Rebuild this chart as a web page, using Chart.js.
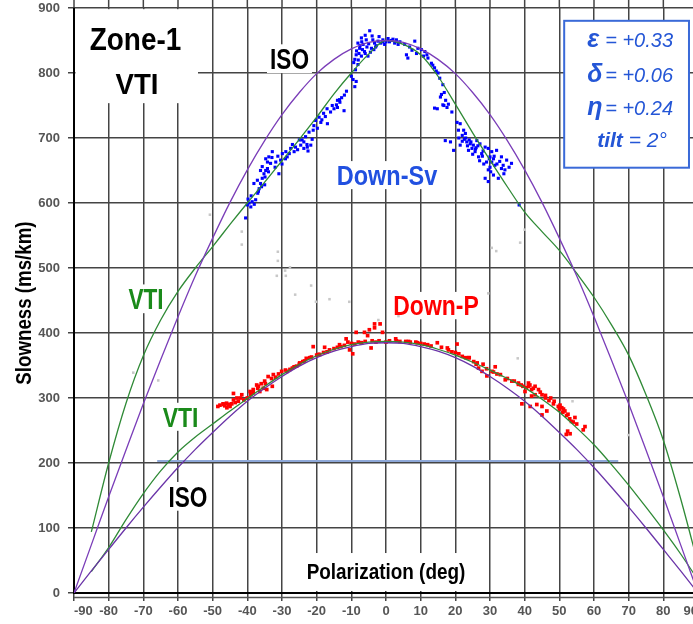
<!DOCTYPE html>
<html><head><meta charset="utf-8">
<script src="https://cdn.jsdelivr.net/npm/chart.js@4.4.0/dist/chart.umd.min.js"></script>
<style>
html,body{margin:0;padding:0;background:#fff;overflow:hidden;width:693px;height:624px}
#wrap{position:relative;width:693px;height:624px;overflow:hidden;background:#fff}
canvas{display:block}
</style></head><body>
<div id="wrap"><canvas id="c" width="720" height="624"></canvas></div>
<script>
// ---------- data ----------
const angles = [-90,-85,-80,-75,-70,-65,-60,-55,-50,-45,-40,-35,-30,-25,-20,-15,-10,-5,0,5,10,15,20,25,30,35,40,45,50,55,60,65,70,75,80,85,90];
const isoSv = [0,74,148,220,291,359,425,488,546,601,651,696,736,770,799,821,837,847,850,847,837,821,799,770,736,696,651,601,546,488,425,359,291,220,148,74,0];
const vtiSv = [null,94,200,292,365,420,464,500,533,567,600,632,665,698,732,768,800,829,850,844,828,795,752,708,666,625,586,556,527,492,455,413,366,305,235,145,45];
const isoP = [0,34,67,100,132,163,193,221,247,272,295,315,333,349,362,372,379,384,385,384,379,372,362,349,333,315,295,272,247,221,193,163,132,100,67,34,0];
const vtiP = [null,33,70,113,153,188,217,240,260,280,299,318,336,352,365,375,382,386,387,386,382,375,366,355,343,330,316,298,278,254,228,198,166,132,97,60,20];
const refLineX = [-66, 67];
const refLineY = [203, 203];

const downSvPoints = [
[-40.5,577],[-40,597],[-39,594],[-38.6,602],[-37.6,605],[-39.5,600],[-38,598],[-38.1,630],[-37.1,635],[-36.6,622],
[-36.2,630],[-35.7,638],[-35.2,645],[-34.7,650],[-36.2,650],[-35.7,656],[-34.2,653],[-34.2,663],[-33.3,661],[-34.7,668],
[-33.8,671],[-32.8,679],[-31.8,663],[-30.9,645],[-30.4,666],[-29.9,676],[-28.9,679],[-28.5,671],[-27.5,684],[-26.5,679],
[-26.1,686],[-24.6,689],[-23.7,694],[-23.7,684],[-22.7,686],[-21.7,689],[-22.5,680],[-23.2,702],[-22.2,709],[-20.8,719],
[-20.3,727],[-19.3,732],[-18.8,724],[-16.9,722],[-16,740],[-15,745],[-14,747],[-13.3,755],[-12.1,742],
[-37,615],[-35,628],[-32,655],[-29,668],[-27,690],[-25,697],[-21,712],[-18,738],[-17,745],[-14,758],
[-39.8,606],[-38.9,611],[-36.8,618],[-35.9,625],[-34.9,640],[-33.9,648],[-32.9,670],[-31.2,672],[-30,660],[-27.9,676],
[-25.5,682],[-24.2,697],[-22.8,690],[-21.3,698],[-19.8,715],[-18.5,728],[-17.5,733],[-15.5,750],[-12.8,762],[-12,766],
[-14.3,751],[-13.4,759],[-11.4,772],[-9.5,790],[-9,779],[-8.6,787],[-9,821],[-8.1,813],[-8.6,828],[-7.1,826],
[-6.2,833],[-5.2,826],[-7.6,838],[-8.1,846],[-7.1,854],[-5.7,851],[-4.7,865],[-6.6,844],[-4.2,838],[-3.3,846],
[-3.8,851],[-2.3,849],[-0.9,851],[-0.4,844],[0.6,853],[1.5,850],[2.5,846],[3.5,844],[5.4,844],[5.9,828],
[6.3,823],[8.3,849],[9.2,838],[10.2,836],[11.2,833],[12.1,823],[13.1,815],[14,808],[15,800],[15.5,792],
[16.4,782],[16,767],[14,746],[16.4,751],
[-6,858],[-5,845],[-2,856],[-1,848],[-3,840],[-7,848],[-8,820],[-6,830],[1,848],[3,851],[4,848],[-4,857],
[-7.5,842],[-6.8,836],[-5.5,840],[-4.5,832],[-3.5,836],[-2.8,842],[-1.5,846],[0,848],[2,852],[-8.5,834],
[-9.3,816],[-8.8,805],[-10,795],[-7.8,830],
[6.8,840],[7.5,835],[8.8,830],[10.8,826],[11.8,828],[13.5,812],[14.5,803],[16.8,770],[17.2,758],[18,752],
[15.7,763],[16.7,750],[17.6,747],[19,740],[14.8,745],[20.5,724],[21.4,722],[20.9,712],[22.4,712],[22.9,707],
[22,704],[17.1,696],[18.6,694],[19.5,681],[21.4,689],[23.3,694],[24.3,691],[25.2,689],[24.8,684],[23.8,681],
[25.7,679],[26.7,671],[27.6,676],[28.6,686],[29.5,684],[30.5,679],[31.9,681],[30,671],[29,663],[30.5,663],
[31.4,658],[33.3,653],[34.3,651],[34.8,666],[36.2,661],[33.3,671],[29.5,651],[31,643],[28.6,638],[29.5,633],
[32.4,638],[38.4,597],[27.1,691],[26.2,696],[23,700],[24,697],[22,695],[26,685],[28,680],[27,665],
[25,675],[31,668],[32,660],[30,655],
[21,700],[22.6,698],[23.5,688],[24.5,694],[25.8,683],[26.5,688],[27.8,672],[28.2,660],[29.8,668],[31.2,672],
[32.8,664],[33.8,658],[35.5,655],[30.2,648],[34,645]
];

const downPPoints = [
[-47.9,289],[-47,291],[-46.5,288],[-46,292],[-45.5,290],[-45,287],[-44.5,291],[-48.5,287],[-46.9,290],[-45.9,285],
[-45,290],[-44,307],[-41.6,305],[-41,297],[-42.6,295],[-43,300],[-40,300],[-39.2,310],[-38.3,313],[-38.3,308],
[-37.3,320],[-36.4,310],[-35.4,315],[-34.4,313],[-32.8,318],[-34,333],[-32.5,336],[-36,322],[-35,326],[-33,330],
[-31,337],[-30.1,341],[-29,343],[-27.7,344],[-26.5,348],[-25.8,349],[-24.9,354],[-24,356],[-23,361],[-22,362],
[-21,379],[-20,366],[-19.1,367],[-18,370],[-17.7,378],[-16.3,374],[-15,376],[-14,378],[-13.4,382],[-12,381],
[-11.5,391],[-11,386],[-10.5,374],[-10,384],[-9.6,368],[-8.6,401],[-8,386],[-7.2,385],[-6.2,401],[-6,387],
[-5.3,396],[-4.8,405],[-4.3,377],[-4,388],[-3.3,414],[-3.3,408],[-2.9,386],[-2,388],[-1.7,414],[-1,401],[0,386],
[-44,297],[-43.5,293],[-42,300],[-39,305],[-37,315],[-36.8,318],[-34.8,322],[-31.8,332],[-28.5,341],[-27,346],
[-25,352],[-23.5,357],[-21.5,363],[-19.5,367],[-17,371],[-13,379],[-9,383],[-7,385],
[1,388],[2.8,391],[4,387],[5.7,387],[7,386],[8.6,386],[10,384],[12,382],[14.8,385],[16,378],
[17.7,377],[18,374],[20.5,383],[20,370],[22,364],[23.9,362],[24,362],[25.3,356],[26.3,354],[26.7,346],
[27.7,341],[28,352],[29.1,334],[30.6,341],[31.5,348],[33,336],[34.4,328],[36.3,326],[38.2,323],[38.2,321],
[39.5,318],[41.1,318],[42,313],[41.1,323],[44,313],[45,305],[43,305],[40.1,310],[42,303],[41.5,320],
[43,318],[39.2,291],[41.6,287],[43.5,290],[45,287],[46,300],[47,296],[48.3,291],[49.7,287],[50.7,285],
[51.6,280],[52.1,273],[53.5,264],[52.4,249],[52,244],[53.1,245],[57.4,256],[56.9,251],[54,263],[46.4,280],
[45,274],[50,283],[51,278],
[3,388],[6.5,387],[9,385],[11,383],[13,380],[19,371],[21,368],[23,362],[26,352],[29,345],
[31,340],[32,337],[35,330],[37,326],[39,320],[40.5,316],[42.5,315],[44.5,309],[46,304],[47.5,300],
[48.5,295],[50.2,289],[51.2,283],[52.5,275],[53,268],[54.5,270],[55,260]
];

const grayPoints = [
[-50.8,582],[-41.6,556],[-41.6,536],[-31.2,525],[-31.2,511],[-29.1,496],[-31.5,488],[-28.9,488],[-27.7,501],[-26.2,459],
[-21.6,473],[-20.2,448],[-16.3,452],[-10.6,448],[-72.9,339],[-65.7,327],[40,559],[38.7,539],[30.5,531],[31.8,526],
[29.5,461],[-2.2,420],[3.6,426],[38,361],[53.8,295],[70,243]
];

const xRange = [-90, 90, 10];
const yRange = [0, 900, 100];
const paramLines = [['ε', '= +0.33'], ['δ', '= +0.06'], ['η', '= +0.24'], ['tilt', '= 2°']];

// ---------- drawing ----------
const FONT = '"Liberation Sans", Arial, sans-serif';
const toXY = (xs, ys) => xs.map((x, i) => ({x: x, y: ys[i]}));
const toPts = arr => arr.map(p => ({x: p[0], y: p[1]}));

// annotation layout (data coordinates)
const labels = [
  {t:'Zone-1', x:-72.26, y:852.8, s:31, c:'#000', sx:0.9},
  {t:'VTI', x:-71.83, y:784.4, s:30, c:'#000', sx:0.92},
  {t:'ISO', x:-27.84, y:822.0, s:29, c:'#000', sx:0.78},
  {t:'Down-Sv', x:0.29, y:642.9, s:28, c:'#2150e0', sx:0.84},
  {t:'Down-P', x:14.42, y:442.2, s:27, c:'#ff0000', sx:0.85},
  {t:'VTI', x:-69.23, y:452.6, s:29, c:'#1a8a1a', sx:0.78},
  {t:'VTI', x:-59.28, y:271.1, s:28, c:'#1a8a1a', sx:0.82},
  {t:'ISO', x:-57.12, y:148.7, s:29, c:'#000', sx:0.78}
];
const zoneBox = {x1:-89.57, x2:-54.23, y1:898.2, y2:753.6};
const titleBox = {x1:-24.81, x2:25.67, y1:61.5, y2:3.1};
const legendBox = {x1:51.4, x2:87.4, y1:880.3, y2:654.3};
const legendRows = [840.2, 786.4, 735.1, 686.4];

function capText(ctx, text, px, py, size, color, sx, weight) {
  ctx.save();
  ctx.font = `${weight||'bold'} ${size}px ${FONT}`;
  ctx.translate(px, py + size*0.358);
  ctx.scale(sx, 1);
  ctx.fillStyle = color;
  ctx.textAlign = 'center';
  ctx.textBaseline = 'alphabetic';
  ctx.fillText(text, 0, 0);
  ctx.restore();
}

const annot = {
  id: 'annot',
  beforeDatasetsDraw(chart) {
    const {ctx, chartArea: a, scales: {x, y}} = chart;
    ctx.save();
    ctx.strokeStyle = '#444'; ctx.lineWidth = 1.5;
    for (let v = xRange[0]; v <= xRange[1]; v += xRange[2]) {
      const px = x.getPixelForValue(v);
      ctx.beginPath(); ctx.moveTo(px, 0); ctx.lineTo(px, a.top); ctx.stroke();
    }
    ctx.lineWidth = 1.3; ctx.strokeStyle = '#555';
    ctx.beginPath(); ctx.moveTo(a.left, a.bottom + 4.5); ctx.lineTo(a.right, a.bottom + 4.5); ctx.stroke();
    ctx.fillStyle = '#fff';
    const rect = b => {
      const x1 = x.getPixelForValue(b.x1), x2 = x.getPixelForValue(b.x2);
      const y1 = y.getPixelForValue(b.y1), y2 = y.getPixelForValue(b.y2);
      ctx.fillRect(x1, y1, x2 - x1, y2 - y1);
    };
    rect(zoneBox); rect(titleBox);
    labels.forEach(l => {
      ctx.font = `bold ${l.s}px ${FONT}`;
      const w = ctx.measureText(l.t).width * l.sx;
      const px = x.getPixelForValue(l.x), py = y.getPixelForValue(l.y);
      const cap = l.s * 0.716;
      ctx.fillRect(px - w/2 - 3, py - cap/2 - 4, w + 6, cap + 8);
    });
    ctx.restore();
  },
  afterDatasetsDraw(chart) {
    const {ctx, scales: {x, y}} = chart;
    labels.forEach(l => capText(ctx, l.t, x.getPixelForValue(l.x), y.getPixelForValue(l.y), l.s, l.c, l.sx));
    capText(ctx, 'Polarization (deg)', x.getPixelForValue(0), y.getPixelForValue(33.8), 22, '#000', 0.86);
    ctx.save();
    ctx.translate(x.getPixelForValue(-104.7), y.getPixelForValue(446));
    ctx.rotate(-Math.PI/2);
    ctx.scale(0.85, 1);
    ctx.font = `bold 22px ${FONT}`;
    ctx.fillStyle = '#000'; ctx.textAlign = 'center'; ctx.textBaseline = 'alphabetic';
    ctx.fillText('Slowness (ms/km)', 0, 22*0.358);
    ctx.restore();
    ctx.save();
    const bx1 = x.getPixelForValue(legendBox.x1), bx2 = x.getPixelForValue(legendBox.x2);
    const by1 = y.getPixelForValue(legendBox.y1), by2 = y.getPixelForValue(legendBox.y2);
    ctx.fillStyle = '#fff'; ctx.fillRect(bx1, by1, bx2 - bx1, by2 - by1);
    ctx.strokeStyle = '#3a6ad8'; ctx.lineWidth = 2;
    ctx.strokeRect(bx1, by1, bx2 - bx1, by2 - by1);
    ctx.fillStyle = '#2456d6'; ctx.textBaseline = 'alphabetic'; ctx.textAlign = 'left';
    paramLines.forEach((row, i) => {
      const base = y.getPixelForValue(legendRows[i]);
      if (i < 3) {
        ctx.font = `italic bold 25px ${FONT}`;
        ctx.fillText(row[0], bx1 + 23, base);
        ctx.font = `italic 20px ${FONT}`;
        ctx.fillText(row[1], bx1 + 41, base);
      } else {
        ctx.font = `italic bold 21px ${FONT}`;
        ctx.fillText(row[0], bx1 + 33, base);
        const w = ctx.measureText(row[0]).width;
        ctx.font = `italic 21px ${FONT}`;
        ctx.fillText(' ' + row[1], bx1 + 33 + w, base);
      }
    });
    ctx.restore();
  }
};

const lineDs = (label, ys, color) => ({
  type: 'line', label, data: toXY(angles, ys), borderColor: color, borderWidth: 1.3,
  pointRadius: 0, cubicInterpolationMode: 'monotone', spanGaps: false, fill: false
});

new Chart(document.getElementById('c'), {
  type: 'scatter',
  data: {
    datasets: [
      lineDs('ISO Sv', isoSv, '#7a3db8'),
      lineDs('VTI Sv', vtiSv, '#2f8a36'),
      lineDs('ISO P', isoP, '#6a34a8'),
      lineDs('VTI P', vtiP, '#2f8a36'),
      {type:'line', label:'ref', data: toXY(refLineX, refLineY), borderColor:'#8ea8d8', borderWidth:2, pointRadius:0},
      {label:'Down-P', data: toPts(downPPoints), backgroundColor:'#ff0000', pointStyle:'rect', pointRadius:2.6, borderWidth:0},
      {label:'Down-Sv', data: toPts(downSvPoints), backgroundColor:'#0000ff', pointStyle:'rect', pointRadius:2.2, borderWidth:0},
      {label:'other', data: toPts(grayPoints), backgroundColor:'#c8c8c8', pointStyle:'rect', pointRadius:1.8, borderWidth:0}
    ]
  },
  options: {
    responsive: false, animation: false, devicePixelRatio: 1,
    layout: {padding: {top: 8, right: 22, left: 0, bottom: 0}},
    plugins: {legend: {display: false}, tooltip: {enabled: false}},
    scales: {
      x: {
        type: 'linear', min: xRange[0], max: xRange[1],
        ticks: {stepSize: xRange[2], align: 'inner', autoSkip: false, maxRotation: 0, padding: 3,
                color: '#555', font: {family: FONT, size: 13, weight: 'bold'}},
        grid: {color: '#444', lineWidth: 1.5, tickLength: 8},
        border: {color: '#000', width: 2},
        afterFit(s) { s.height = 31; s.paddingLeft = 0; s.paddingRight = 0; }
      },
      y: {
        type: 'linear', min: yRange[0], max: yRange[1],
        ticks: {stepSize: yRange[2], padding: 8, color: '#555', font: {family: FONT, size: 13, weight: 'bold'}},
        grid: {color: '#444', lineWidth: 1.5, tickLength: 6},
        border: {color: '#000', width: 2},
        afterFit(s) { s.width = 74; s.paddingTop = 0; s.paddingBottom = 0; }
      }
    }
  },
  plugins: [annot]
});
</script>
</body></html>
